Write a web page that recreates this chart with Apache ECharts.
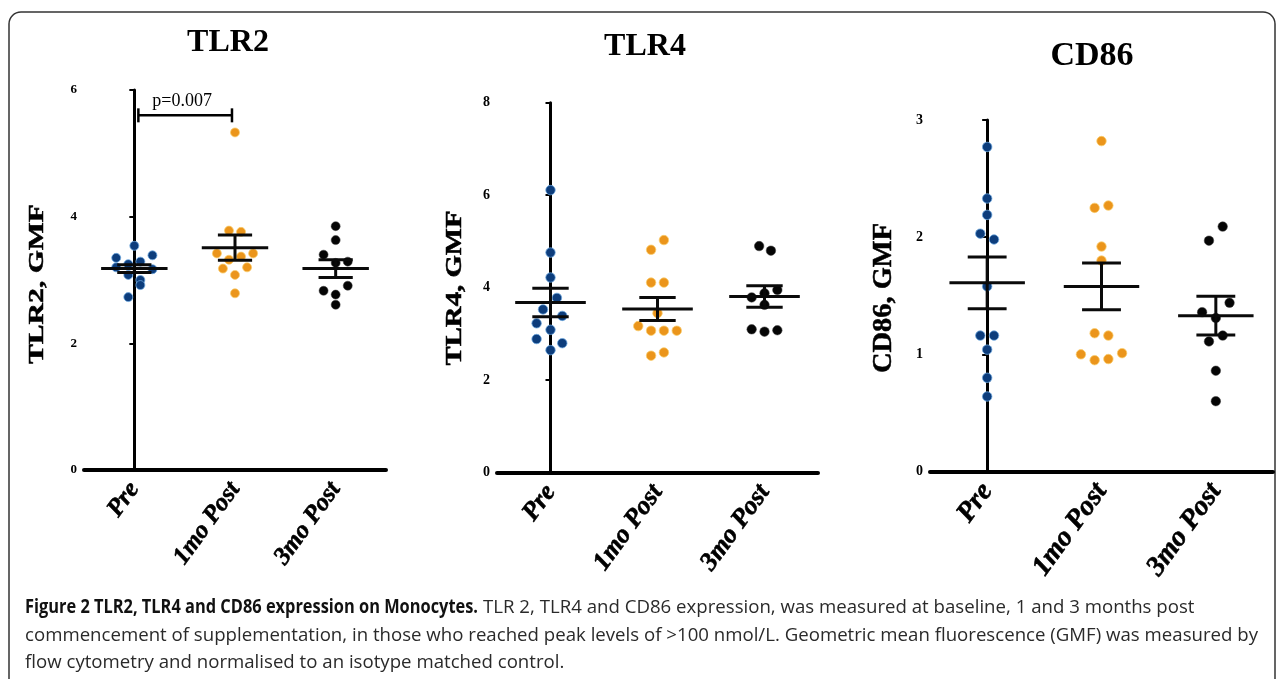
<!DOCTYPE html>
<html><head><meta charset="utf-8">
<script src="https://cdn.jsdelivr.net/npm/echarts@6/dist/echarts.min.js"></script>
<style>html,body{margin:0;padding:0;background:#fff}#c{width:1282px;height:679px}</style>
</head><body><div id="c"></div>
<script>
// ---------- DATA ----------
const categories = ['Pre', '1mo Post', '3mo Post'];
const panelTitles = ['TLR2', 'TLR4', 'CD86'];
const yNames = ['TLR2, GMF', 'TLR4, GMF', 'CD86, GMF'];

// TLR2
const tlr2Pre   = [3.54, 3.35, 3.39, 3.25, 3.29, 3.20, 3.17, 3.08, 3.00, 2.92, 2.73];
const tlr2PreDx = [0, -0.18, 0.18, -0.06, 0.06, -0.18, 0.18, -0.06, 0.06, 0.06, -0.06];
const tlr2Mo1   = [5.33, 3.78, 3.76, 3.42, 3.42, 3.32, 3.37, 3.18, 3.20, 3.08, 2.79];
const tlr2Mo1Dx = [0, -0.06, 0.06, -0.18, 0.18, -0.06, 0.06, -0.12, 0.12, 0, 0];
const tlr2Mo3   = [3.85, 3.63, 3.40, 3.29, 3.27, 2.91, 2.83, 2.77, 2.61];
const tlr2Mo3Dx = [0, 0, -0.12, 0.12, 0, 0.12, -0.12, 0, 0];
const tlr2Mean  = [3.18, 3.51, 3.18];
const tlr2Sem   = [0.06, 0.20, 0.14];
const tlr2Ticks = [0, 2, 4, 6];
const tlr2Sig   = [0.04, 0.97, 5.6];   // from, to, y
const tlr2SigLabel = 'p=0.007';

// TLR4
const tlr4Pre   = [6.11, 4.76, 4.22, 3.78, 3.53, 3.39, 3.23, 3.09, 2.89, 2.80, 2.65];
const tlr4PreDx = [0, 0, 0, 0.06, -0.07, 0.11, -0.13, 0, -0.13, 0.11, 0];
const tlr4Mo1   = [5.03, 4.82, 4.11, 4.11, 3.45, 3.17, 3.07, 3.07, 3.07, 2.53, 2.60];
const tlr4Mo1Dx = [0.06, -0.06, -0.06, 0.06, 0, -0.18, -0.06, 0.06, 0.18, -0.06, 0.06];
const tlr4Mo3   = [4.90, 4.80, 3.79, 3.88, 3.95, 3.63, 3.10, 3.05, 3.08];
const tlr4Mo3Dx = [-0.05, 0.06, -0.12, 0, 0.12, 0, -0.12, 0, 0.12];
const tlr4Mean  = [3.68, 3.54, 3.81];
const tlr4Sem   = [0.31, 0.25, 0.23];
const tlr4Ticks = [0, 2, 4, 6, 8];

// CD86
const cd86Pre   = [2.77, 2.33, 2.19, 2.03, 1.98, 1.58, 1.16, 1.16, 1.04, 0.80, 0.64];
const cd86PreDx = [0, 0, 0, -0.06, 0.06, 0, -0.06, 0.06, 0, 0, 0];
const cd86Mo1   = [2.82, 2.25, 2.27, 1.92, 1.80, 1.18, 1.16, 1.00, 0.95, 0.96, 1.01];
const cd86Mo1Dx = [0, -0.06, 0.06, 0, 0, -0.06, 0.06, -0.18, -0.06, 0.06, 0.18];
const cd86Mo3   = [2.09, 1.97, 1.44, 1.36, 1.31, 1.16, 1.11, 0.86, 0.60];
const cd86Mo3Dx = [0.06, -0.06, 0.12, -0.12, 0, 0.06, -0.06, 0, 0];
const cd86Mean  = [1.61, 1.58, 1.33];
const cd86Sem   = [0.22, 0.20, 0.165];
const cd86Ticks = [0, 1, 2, 3];

const captionBold = 'Figure 2 TLR2, TLR4 and CD86 expression on Monocytes.';
const captionLines = [
  'TLR 2, TLR4 and CD86 expression, was measured at baseline, 1 and 3 months post',
  'commencement of supplementation, in those who reached peak levels of >100 nmol/L. Geometric mean fluorescence (GMF) was measured by',
  'flow cytometry and normalised to an isotype matched control.'
];

// ---------- LAYOUT / STYLE ----------
const panels = [
  { groups: [tlr2Pre, tlr2Mo1, tlr2Mo3], dx: [tlr2PreDx, tlr2Mo1Dx, tlr2Mo3Dx], mean: tlr2Mean, sem: tlr2Sem, ticks: tlr2Ticks,
    grid: { left: 84, top: 90, width: 302, height: 380 }, sym: 9, tickFont: 13, catFont: 25,
    title: { x: 228, y: 43, size: 32 }, yname: { x: 37, y: 284, size: 22, len: 160 } },
  { groups: [tlr4Pre, tlr4Mo1, tlr4Mo3], dx: [tlr4PreDx, tlr4Mo1Dx, tlr4Mo3Dx], mean: tlr4Mean, sem: tlr4Sem, ticks: tlr4Ticks,
    grid: { left: 497, top: 102.7, width: 321, height: 370 }, sym: 9.5, tickFont: 14, catFont: 26,
    title: { x: 645, y: 47, size: 32 }, yname: { x: 455, y: 288, size: 23, len: 155 } },
  { groups: [cd86Pre, cd86Mo1, cd86Mo3], dx: [cd86PreDx, cd86Mo1Dx, cd86Mo3Dx], mean: cd86Mean, sem: cd86Sem, ticks: cd86Ticks,
    grid: { left: 930, top: 120, width: 343, height: 351.5 }, sym: 9.5, tickFont: 14, catFont: 28,
    title: { x: 1092, y: 56, size: 34 }, yname: { x: 884, y: 298, size: 28, len: 150 } }
];
const colors = ['#0d3d7c', '#eb951b', '#050505'];
const borders = ['rgba(110,170,225,0.75)', 'rgba(250,205,110,0.75)', 'rgba(60,60,60,0.5)'];
const SERIF = '"Liberation Serif", "Times New Roman", serif';
const SANS = '"Open Sans", "Noto Sans", sans-serif';

const mctx = document.createElement('canvas').getContext('2d');
function measure(text, weight, size, family) {
  mctx.font = weight + ' ' + size + 'px ' + family;
  return mctx.measureText(text).width;
}

const grids = [], xAxes = [], yAxes = [], series = [], graphics = [];

panels.forEach((p, pi) => {
  grids.push(Object.assign({ containLabel: false }, p.grid));
  xAxes.push({
    type: 'category', gridIndex: pi, data: categories, boundaryGap: true,
    axisLine: { lineStyle: { color: '#000', width: 4 } },
    axisTick: { alignWithLabel: true, length: 8, lineStyle: { color: '#000', width: 2 } },
    axisLabel: { rotate: 54, margin: 15, color: '#000', fontFamily: SERIF, fontWeight: 'bold', fontStyle: 'italic', fontSize: p.catFont,
                 textBorderColor: '#000', textBorderWidth: 0.6 },
    splitLine: { show: false }
  });
  xAxes.push({ type: 'value', gridIndex: pi, min: -0.5, max: 2.5, show: false });
  yAxes.push({
    type: 'value', gridIndex: pi, min: p.ticks[0], max: p.ticks[p.ticks.length - 1], interval: p.ticks[1] - p.ticks[0],
    axisLine: { show: true, lineStyle: { color: '#000', width: 3 } },
    axisTick: { show: true, length: 5, lineStyle: { color: '#000', width: 2 } },
    axisLabel: { margin: 7, color: '#000', fontFamily: SERIF, fontWeight: 'bold', fontSize: p.tickFont },
    splitLine: { show: false }
  });
  p.groups.forEach((vals, g) => {
    series.push({
      type: 'scatter', xAxisIndex: pi * 2 + 1, yAxisIndex: pi, symbolSize: p.sym, z: 2,
      data: vals.map((v, k) => [g + p.dx[g][k], v]),
      itemStyle: { color: colors[g], borderColor: borders[g], borderWidth: 1, opacity: 1 },
      silent: true
    });
  });
  series.push({
    type: 'custom', xAxisIndex: pi * 2 + 1, yAxisIndex: pi, z: 5, silent: true,
    data: p.mean.map((m, i) => [i, m, p.sem[i]]),
    encode: { x: 0, y: 1 },
    renderItem: function (params, api) {
      const i = api.value(0), m = api.value(1), s = api.value(2);
      const L = (x1, y1, x2, y2) => {
        const a = api.coord([x1, y1]), b = api.coord([x2, y2]);
        return { type: 'line', shape: { x1: a[0], y1: a[1], x2: b[0], y2: b[1] }, style: { stroke: '#0a0a0a', lineWidth: 3 } };
      };
      return { type: 'group', children: [
        L(i - 0.33, m, i + 0.33, m),
        L(i, m - s, i, m + s),
        L(i - 0.17, m + s, i + 0.17, m + s),
        L(i - 0.17, m - s, i + 0.17, m - s)
      ] };
    }
  });
  graphics.push({ type: 'text', x: p.title.x, y: p.title.y, style: { text: panelTitles[pi], fontFamily: SERIF, fontWeight: 'bold', fontSize: p.title.size, fill: '#000', textAlign: 'center', textVerticalAlign: 'middle' } });
  const w = measure(yNames[pi], 'bold', p.yname.size, SERIF);
  graphics.push({ type: 'text', x: p.yname.x, y: p.yname.y, rotation: Math.PI / 2, scaleX: p.yname.len / w,
    style: { text: yNames[pi], fontFamily: SERIF, fontWeight: 'bold', fontSize: p.yname.size, fill: '#000', stroke: '#000', lineWidth: 0.5, textAlign: 'center', textVerticalAlign: 'middle' } });
});

series.push({
  type: 'custom', xAxisIndex: 1, yAxisIndex: 0, z: 6, silent: true,
  data: [tlr2Sig],
  renderItem: function (params, api) {
    const a = api.coord([api.value(0), api.value(2)]), b = api.coord([api.value(1), api.value(2)]);
    const st = { stroke: '#000', lineWidth: 2.5 };
    return { type: 'group', children: [
      { type: 'line', shape: { x1: a[0], y1: a[1], x2: b[0], y2: b[1] }, style: st },
      { type: 'line', shape: { x1: a[0], y1: a[1] - 7, x2: a[0], y2: a[1] + 7 }, style: st },
      { type: 'line', shape: { x1: b[0], y1: b[1] - 7, x2: b[0], y2: b[1] + 7 }, style: st },
      { type: 'text', x: (a[0] + b[0]) / 2 - 3, y: a[1] - 5, style: { text: tlr2SigLabel, fontFamily: SERIF, fontSize: 18, fill: '#000', textAlign: 'center', textVerticalAlign: 'bottom' } }
    ] };
  }
});

graphics.push({ type: 'rect', shape: { x: 9, y: 12, width: 1266, height: 700, r: 12 }, style: { fill: 'none', stroke: '#333', lineWidth: 1.5 }, z: -1 });

const CF = 19;
const boldW = measure(captionBold, 'bold', CF, SANS);
const l2W = measure(captionLines[1], 'normal', CF, SANS);
const normScale = 1233 / l2W;
graphics.push({ type: 'text', x: 25, y: 608, scaleX: 453 / boldW, style: { text: captionBold, fontFamily: SANS, fontWeight: 'bold', fontSize: CF, fill: '#111', textVerticalAlign: 'middle' } });
graphics.push({ type: 'text', x: 483, y: 608, scaleX: normScale, style: { text: captionLines[0], fontFamily: SANS, fontSize: CF, fill: '#2a2a2a', textVerticalAlign: 'middle' } });
graphics.push({ type: 'text', x: 25, y: 636, scaleX: normScale, style: { text: captionLines[1], fontFamily: SANS, fontSize: CF, fill: '#2a2a2a', textVerticalAlign: 'middle' } });
graphics.push({ type: 'text', x: 25, y: 663, scaleX: normScale, style: { text: captionLines[2], fontFamily: SANS, fontSize: CF, fill: '#2a2a2a', textVerticalAlign: 'middle' } });

const chart = echarts.init(document.getElementById('c'), null, { renderer: 'canvas' });
chart.setOption({
  backgroundColor: '#fff',
  animation: false,
  grid: grids, xAxis: xAxes, yAxis: yAxes, series: series,
  graphic: graphics
});
</script></body></html>
